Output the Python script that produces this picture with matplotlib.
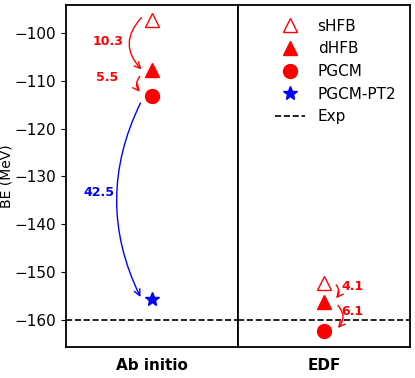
import numpy as np
import matplotlib
matplotlib.use('Agg')
import matplotlib.pyplot as plt

# 데이터
panels = ['Ab initio', 'EDF']
shfb = [-97.3, -152.3]
dhfb = [-107.6, -156.4]
pgcm = [-113.1, -162.5]
pgcm_pt2 = -155.6
exp_be = -160.2

# 화살표 라벨 (차이값)
gap_abinitio = ['10.3', '5.5', '42.5']
gap_edf = ['4.1', '6.1']

plt.rcParams['font.size'] = 11

fig, (ax1, ax2) = plt.subplots(1, 2, sharey=True, figsize=(4.15, 3.78), dpi=100)
fig.subplots_adjust(left=0.159, right=0.988, top=0.987, bottom=0.082, wspace=0)

for i, ax in enumerate([ax1, ax2]):
    ax.plot(0, shfb[i], '^', mfc='none', mec='red', ms=10, label='sHFB')
    ax.plot(0, dhfb[i], '^', color='red', ms=10, label='dHFB')
    ax.plot(0, pgcm[i], 'o', color='red', ms=10, label='PGCM')
    ax.axhline(exp_be, color='black', ls='--', lw=1.2, label='Exp')
    ax.set_xlim(-1, 1)
    ax.set_xticks([0])
    ax.set_xticklabels([panels[i]], fontweight='bold')
    ax.tick_params(axis='x', length=0, pad=8)
    for s in ax.spines.values():
        s.set_linewidth(1.3)

ax1.plot(0, pgcm_pt2, '*', color='blue', ms=10, label='PGCM-PT2')
ax2.tick_params(axis='y', length=0)

# 화살표
def arrow(ax, x, y1, y2, rad, c):
    ax.annotate('', xy=(x, y2), xytext=(x, y1),
                arrowprops=dict(arrowstyle='->', color=c, lw=1,
                                connectionstyle='arc3,rad=%s' % rad))

# Ab initio
arrow(ax1, -0.1, shfb[0] + 1.0, dhfb[0] - 0.4, 0.5, 'red')
arrow(ax1, -0.12, dhfb[0] - 1.0, pgcm[0] + 0.4, 0.5, 'red')
arrow(ax1, -0.12, pgcm[0] - 1.0, pgcm_pt2 - 0.2, 0.25, 'blue')
ax1.text(-0.51, -101.7, gap_abinitio[0], color='red', fontweight='bold', fontsize=9, ha='center', va='center')
ax1.text(-0.52, -109.3, gap_abinitio[1], color='red', fontweight='bold', fontsize=9, ha='center', va='center')
ax1.text(-0.62, -133.4, gap_abinitio[2], color='blue', fontweight='bold', fontsize=9, ha='center', va='center')

# EDF
arrow(ax2, 0.12, shfb[1], dhfb[1] + 0.4, -0.5, 'red')
arrow(ax2, 0.14, dhfb[1] - 0.2, pgcm[1] + 0.3, -0.5, 'red')
ax2.text(0.33, -153.0, gap_edf[0], color='red', fontweight='bold', fontsize=9, ha='center', va='center')
ax2.text(0.33, -158.3, gap_edf[1], color='red', fontweight='bold', fontsize=9, ha='center', va='center')

ax1.set_ylabel('BE (MeV)', fontsize=10, labelpad=1)

h1, l1 = ax1.get_legend_handles_labels()
order = ['sHFB', 'dHFB', 'PGCM', 'PGCM-PT2', 'Exp']
hd = dict(zip(l1, h1))
ax2.legend([hd[k] for k in order], order, loc='upper right', frameon=False, fontsize=11)

fig.savefig('out.png')
